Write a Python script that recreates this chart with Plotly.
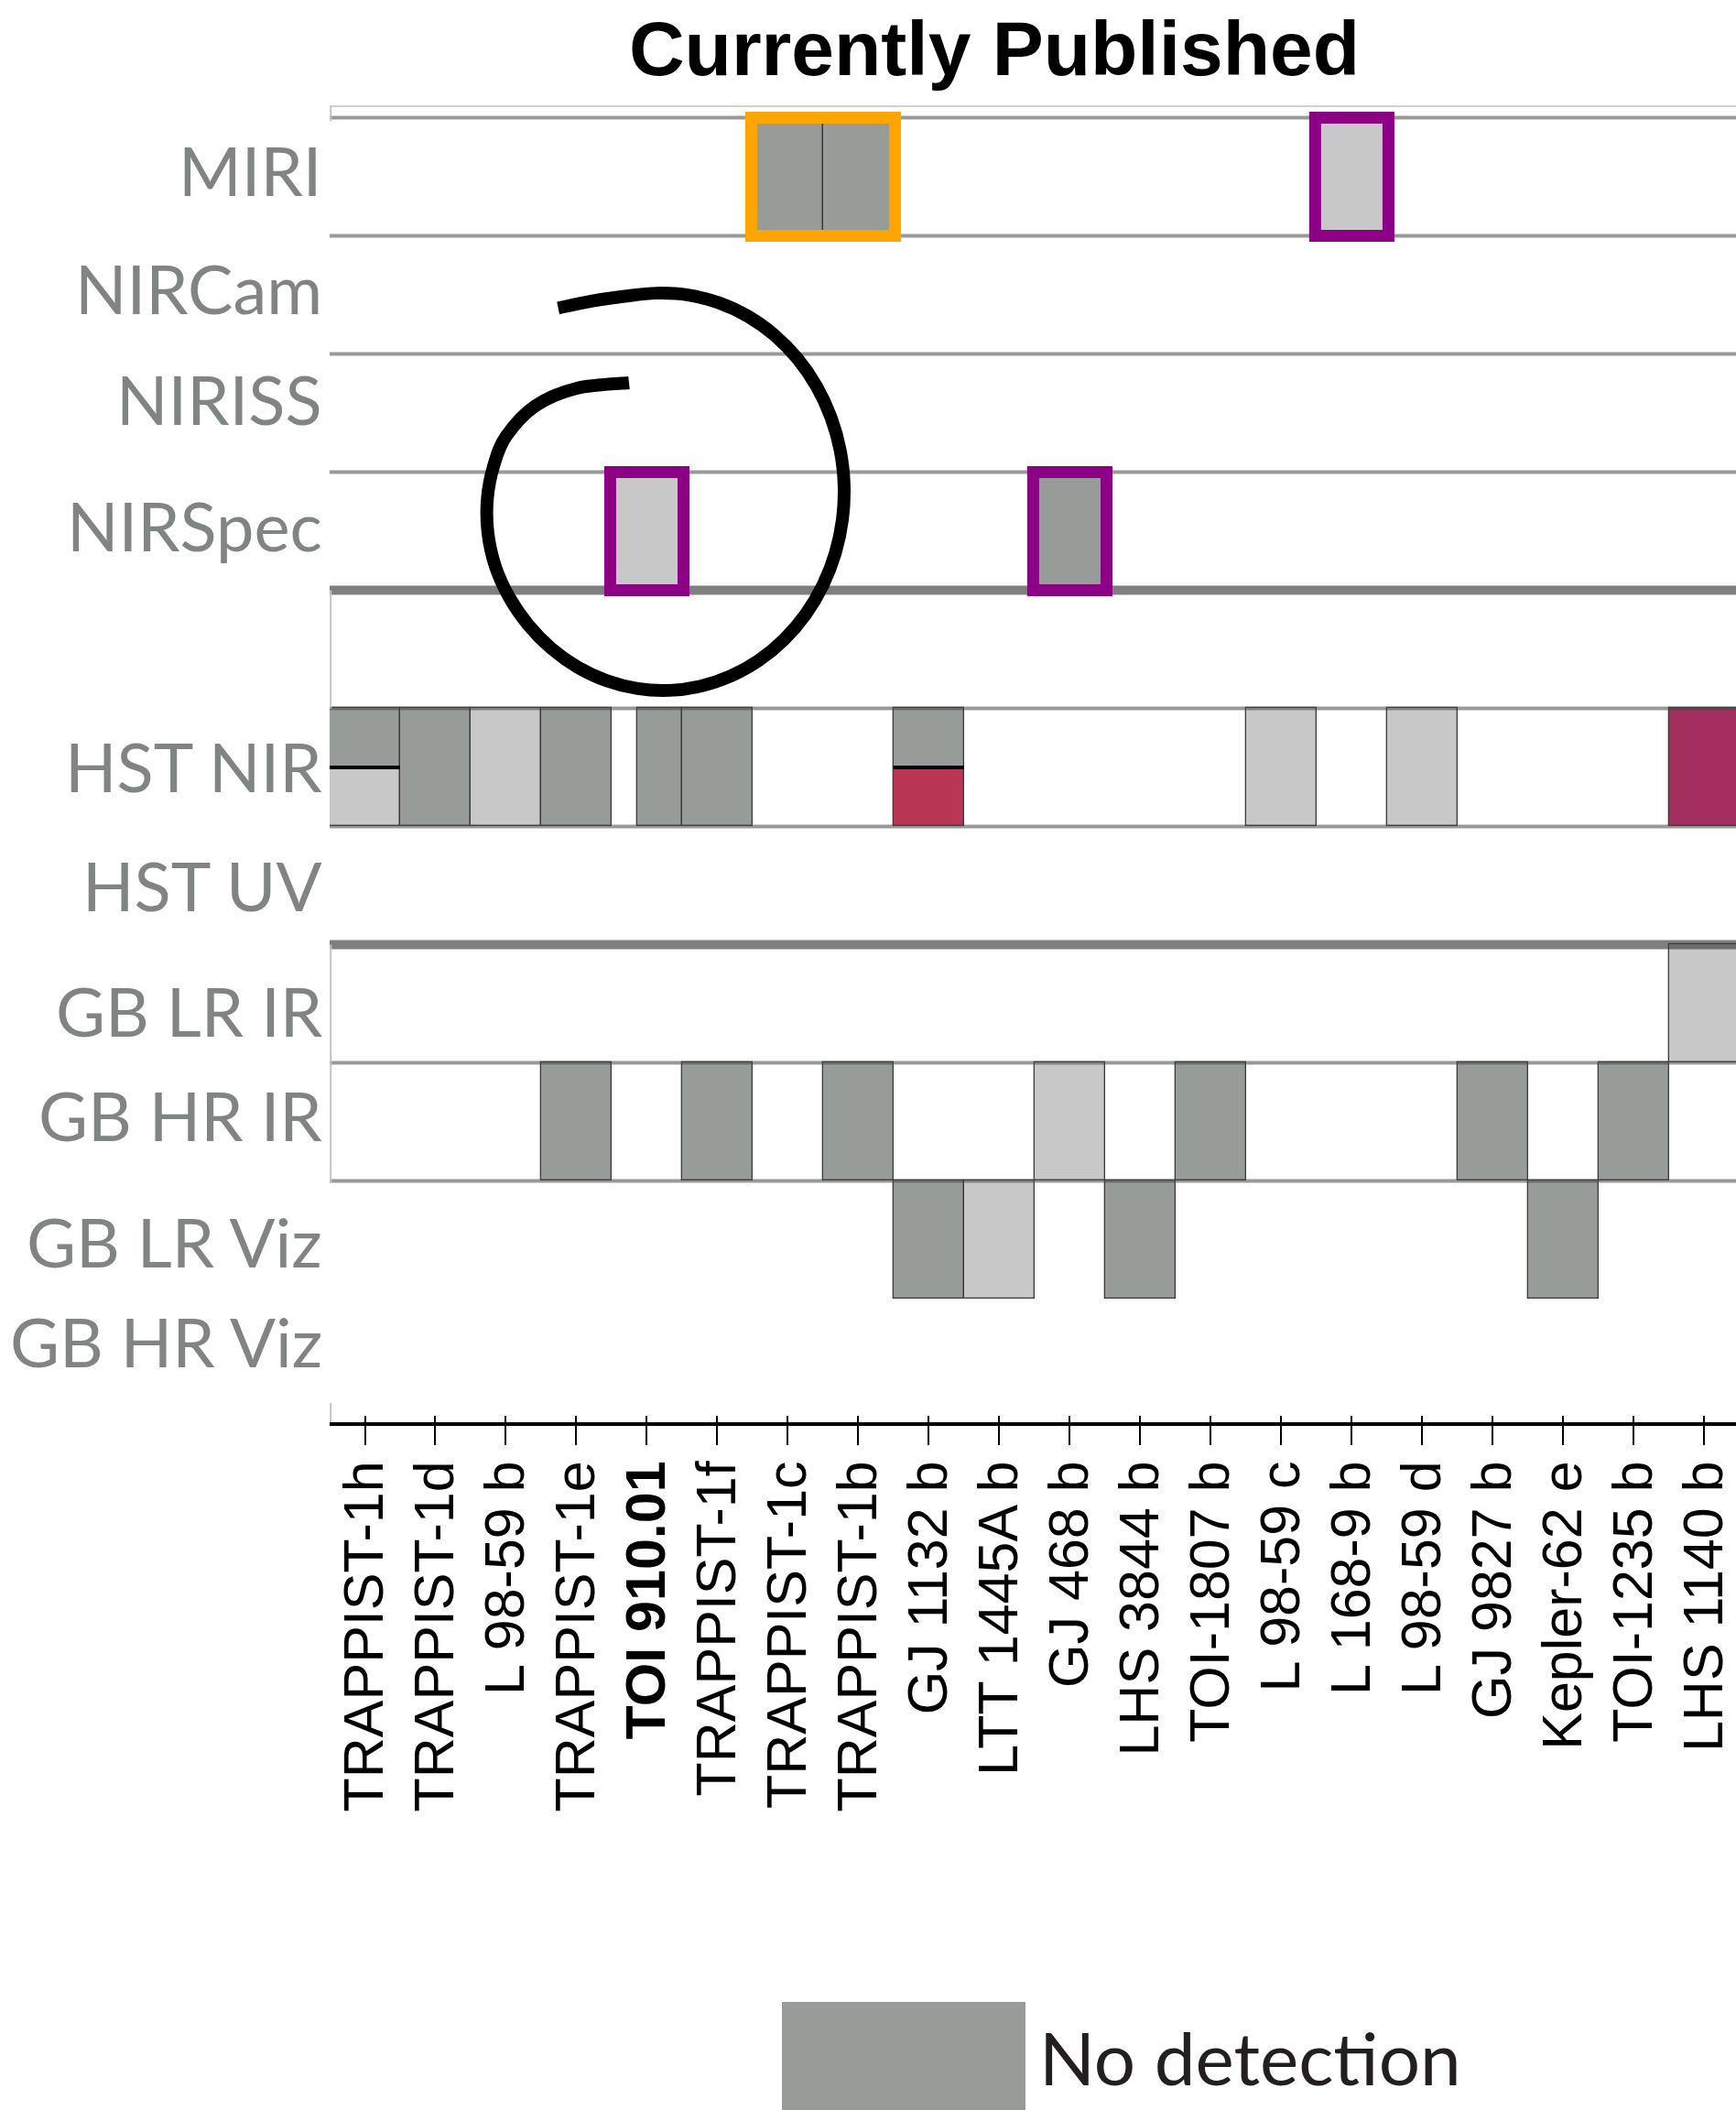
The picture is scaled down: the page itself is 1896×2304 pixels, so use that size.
import math
import plotly.graph_objects as go

# ---------------------------------------------------------------- data
planets = ["TRAPPIST-1h", "TRAPPIST-1d", "L 98-59 b", "TRAPPIST-1e", "TOI 910.01",
           "TRAPPIST-1f", "TRAPPIST-1c", "TRAPPIST-1b", "GJ 1132 b", "LTT 1445A b",
           "GJ 468 b", "LHS 3844 b", "TOI-1807 b", "L 98-59 c", "L 168-9 b",
           "L 98-59 d", "GJ 9827 b", "Kepler-62 e", "TOI-1235 b", "LHS 1140 b"]
bold_planets = ["TOI 910.01"]

instruments = ["MIRI", "NIRCam", "NIRISS", "NIRSpec", "", "HST NIR", "HST UV",
               "GB LR IR", "GB HR IR", "GB LR Viz", "GB HR Viz"]

cell_instrument = ["MIRI", "MIRI", "MIRI",
                   "NIRSpec", "NIRSpec",
                   "HST NIR", "HST NIR", "HST NIR", "HST NIR", "HST NIR", "HST NIR",
                   "HST NIR", "HST NIR", "HST NIR", "HST NIR", "HST NIR", "HST NIR",
                   "GB LR IR",
                   "GB HR IR", "GB HR IR", "GB HR IR", "GB HR IR", "GB HR IR",
                   "GB HR IR", "GB HR IR",
                   "GB LR Viz", "GB LR Viz", "GB LR Viz", "GB LR Viz"]
cell_planet = ["TRAPPIST-1c", "TRAPPIST-1b", "L 168-9 b",
               "TOI 910.01", "GJ 468 b",
               "TRAPPIST-1h", "TRAPPIST-1h", "TRAPPIST-1d", "L 98-59 b", "TRAPPIST-1e",
               "TOI 910.01", "TRAPPIST-1f", "GJ 1132 b", "GJ 1132 b", "L 98-59 c",
               "L 98-59 d", "LHS 1140 b",
               "LHS 1140 b",
               "TRAPPIST-1e", "TRAPPIST-1f", "TRAPPIST-1b", "GJ 468 b", "TOI-1807 b",
               "GJ 9827 b", "TOI-1235 b",
               "GJ 1132 b", "LTT 1445A b", "LHS 3844 b", "Kepler-62 e"]
cell_result = ["none", "none", "flat",
               "flat", "none",
               "none", "flat", "none", "flat", "none",
               "none", "none", "none", "feature", "flat",
               "flat", "feature_strong",
               "flat",
               "none", "none", "none", "flat", "none",
               "none", "none",
               "none", "flat", "none", "none"]
cell_part = ["full", "full", "full",
             "full", "full",
             "upper", "lower", "full", "full", "full",
             "full", "full", "upper", "lower", "full",
             "full", "full",
             "full",
             "full", "full", "full", "full", "full",
             "full", "full",
             "full", "full", "full", "full"]

highlight_instrument = ["MIRI", "MIRI", "NIRSpec", "NIRSpec"]
highlight_first = ["TRAPPIST-1c", "L 168-9 b", "TOI 910.01", "GJ 468 b"]
highlight_last = ["TRAPPIST-1b", "L 168-9 b", "TOI 910.01", "GJ 468 b"]
highlight_kind = ["orange", "purple", "purple", "purple"]

legend_label = "No detection"

# ---------------------------------------------------------------- styles
W, H = 1896, 2304
M_L, M_R, M_T, M_B = 360, 0, 116, 751
PLOT_W, PLOT_H = W - M_L - M_R, H - M_T - M_B

RESULT_COLORS = {"none": "#989c98", "flat": "#c8c8c8",
                 "feature": "#b93655", "feature_strong": "#a42e5e"}
HIGHLIGHT_COLORS = {"orange": "#ffa500", "purple": "#8b0085"}
LABEL_GRAY = "#808584"
THICK_AFTER = ["NIRSpec", "HST UV"]           # heavier separators below these rows
PARTIAL_SPAN = {("HST NIR", "TOI 910.01"): (-0.14, 0.5)}
# small vertical nudges (px, up is positive) of the row captions
LABEL_NUDGE = {"MIRI": 8, "NIRCam": 8, "NIRISS": 16, "NIRSpec": 6, "HST NIR": 1,
               "HST UV": 0, "GB LR IR": -8, "GB HR IR": 7, "GB LR Viz": -2,
               "GB HR Viz": 18}

Y_RANGE = [10.543, -0.597]
X_RANGE = [-0.5, 19.45]


def paper_x(px):
    return (px - M_L) / PLOT_W


def paper_y(py):
    return (H - M_B - py) / PLOT_H


# ---------------------------------------------------------------- cells
xs, bases, heights, widths, offsets, colors = [], [], [], [], [], []
div_x, div_y = [], []
for inst, pl, res, part in zip(cell_instrument, cell_planet, cell_result, cell_part):
    xi = planets.index(pl)
    yi = instruments.index(inst)
    lo, hi = PARTIAL_SPAN.get((inst, pl), (-0.5, 0.5))
    xs.append(xi)
    offsets.append(lo)
    widths.append(hi - lo)
    if part == "full":
        bases.append(yi - 0.5)
        heights.append(1.0)
    elif part == "upper":
        bases.append(yi - 0.5)
        heights.append(0.5)
        div_x += [xi - 0.5, xi + 0.5, None]
        div_y += [yi, yi, None]
    else:
        bases.append(yi)
        heights.append(0.5)
    colors.append(RESULT_COLORS[res])

fig = go.Figure()
fig.add_trace(go.Bar(
    x=xs, y=heights, base=bases, width=widths, offset=offsets,
    marker=dict(color=colors, line=dict(color="#3a3a3a", width=1.3)),
    hoverinfo="skip", showlegend=False,
))
fig.add_trace(go.Scatter(
    x=div_x, y=div_y, mode="lines", line=dict(color="black", width=4),
    hoverinfo="skip", showlegend=False,
))
# carrier for the second tick layer
fig.add_trace(go.Scatter(x=[], y=[], xaxis="x2", yaxis="y", showlegend=False))

shapes = []

# row separators
for yi in range(len(instruments) - 1):
    boundary = yi - 0.5
    heavy = yi > 0 and instruments[yi - 1] in THICK_AFTER
    shapes.append(dict(
        type="line", xref="paper", yref="y", x0=0, x1=1, y0=boundary, y1=boundary,
        layer="above",
        line=dict(color="rgba(60,60,60,0.66)" if heavy else "rgba(70,70,70,0.55)",
                  width=10 if heavy else 4),
    ))

# light frame pieces
frame_col = "#c4c4c4"
shapes.append(dict(type="line", xref="paper", yref="paper", x0=0, x1=1, y0=1, y1=1,
                   layer="above", line=dict(color="#d0d0d0", width=2)))
gap_row = instruments.index("")
for r0, r1 in [(-0.597, -0.47), (gap_row - 0.5, gap_row + 0.5),
               (instruments.index("GB LR IR") - 0.5, instruments.index("GB HR IR") + 0.52),
               (10.38, 10.543)]:
    shapes.append(dict(type="line", xref="paper", yref="y", x0=0.0008, x1=0.0008,
                       y0=r0, y1=r1, layer="above",
                       line=dict(color=frame_col, width=2)))

# highlight outlines
for inst, first, last, kind in zip(highlight_instrument, highlight_first,
                                   highlight_last, highlight_kind):
    yi = instruments.index(inst)
    x0 = planets.index(first) - 0.52
    x1 = planets.index(last) + 0.52
    shapes.append(dict(type="rect", xref="x", yref="y", x0=x0, x1=x1,
                       y0=yi - 0.5, y1=yi + 0.5, layer="above",
                       fillcolor="rgba(0,0,0,0)",
                       line=dict(color=HIGHLIGHT_COLORS[kind], width=13)))

# hand-drawn loop around the NIRSpec / NIRISS area (pixel geometry):
# an elliptical sweep that opens a little at the start and tightens at the end
cx, cy, rx, ry = 724, 537, 198, 217
loop_px = []
for deg in range(-122, 201, 10):
    t = math.radians(deg)
    s = 1.0
    if deg < -95:
        s += 0.09 * ((-95 - deg) / 27.0) ** 2
    if deg > 150:
        s -= 0.42 * ((deg - 150) / 102.7) ** 2
    loop_px.append((cx + s * rx * math.cos(t), cy + s * ry * math.sin(t)))
loop_px += [(585, 443), (630, 424), (687, 418)]

P = [(paper_x(px), paper_y(py)) for px, py in loop_px]
d = "M{:.5f},{:.5f}".format(*P[0])
for i in range(len(P) - 1):
    p0 = P[i - 1] if i > 0 else P[i]
    p1, p2 = P[i], P[i + 1]
    p3 = P[i + 2] if i + 2 < len(P) else P[i + 1]
    c1 = (p1[0] + (p2[0] - p0[0]) / 6, p1[1] + (p2[1] - p0[1]) / 6)
    c2 = (p2[0] - (p3[0] - p1[0]) / 6, p2[1] - (p3[1] - p1[1]) / 6)
    d += " C{:.5f},{:.5f} {:.5f},{:.5f} {:.5f},{:.5f}".format(*c1, *c2, *p2)
shapes.append(dict(type="path", xref="paper", yref="paper", path=d, layer="above",
                   line=dict(color="black", width=14)))

# legend swatch
shapes.append(dict(type="rect", xref="paper", yref="paper",
                   x0=paper_x(854), x1=paper_x(1120), y0=paper_y(2186), y1=paper_y(2330),
                   fillcolor=RESULT_COLORS["none"], line=dict(width=0), layer="above"))

annotations = [
    dict(text=legend_label, xref="paper", yref="paper", x=paper_x(1133), y=paper_y(2246),
         xanchor="left", yanchor="middle", showarrow=False,
         font=dict(family="Lato", size=80, color="#231f20")),
]
for yi, name in enumerate(instruments):
    if not name:
        continue
    annotations.append(dict(
        text=name, xref="paper", yref="y", x=0, y=yi, xshift=-6,
        yshift=LABEL_NUDGE.get(name, 0), xanchor="right", yanchor="middle",
        showarrow=False, font=dict(family="Lato", size=74, color=LABEL_GRAY)))

ticktext = ["<b>%s</b>" % p if p in bold_planets else p for p in planets]

fig.update_layout(
    width=W, height=H,
    margin=dict(l=M_L, r=M_R, t=M_T, b=M_B, pad=0),
    paper_bgcolor="white", plot_bgcolor="white",
    barmode="overlay", bargap=0,
    title=dict(text="<b>Currently Published</b>", x=1086 / W, xref="container",
               y=1 - 53 / H, yref="container", xanchor="center", yanchor="middle",
               font=dict(family="Liberation Sans", size=84, color="black")),
    xaxis=dict(range=X_RANGE, tickvals=list(range(len(planets))), ticktext=ticktext,
               tickangle=-90, tickfont=dict(family="Liberation Sans", size=61, color="black"),
               ticks="outside", ticklen=21, tickwidth=2, tickcolor="black",
               showline=True, linecolor="black", linewidth=4,
               showgrid=False, zeroline=False, ticklabelstandoff=-7),
    xaxis2=dict(range=X_RANGE, overlaying="x", anchor="y", side="bottom",
                tickvals=list(range(len(planets))), showticklabels=False,
                ticks="inside", ticklen=7, tickwidth=2, tickcolor="black",
                showline=False, showgrid=False, zeroline=False),
    yaxis=dict(range=Y_RANGE, showticklabels=False,
               ticks="", showline=False, showgrid=False, zeroline=False),
    shapes=shapes,
    annotations=annotations,
    showlegend=False,
)

fig.write_html("out.html")
